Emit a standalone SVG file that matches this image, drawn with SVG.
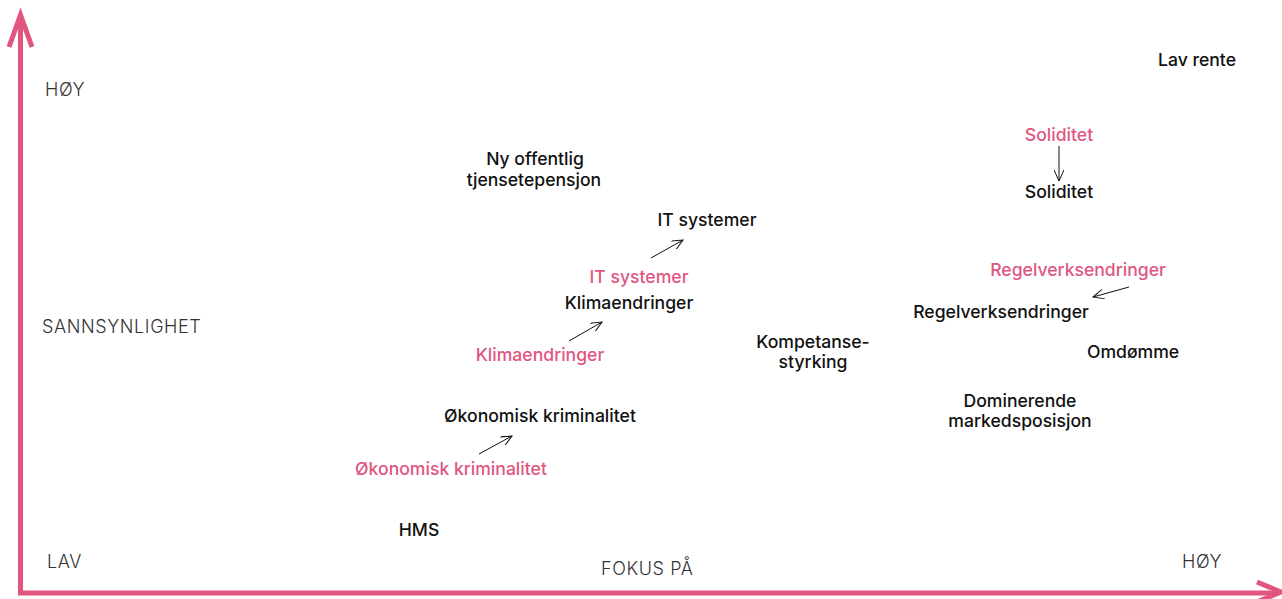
<svg xmlns="http://www.w3.org/2000/svg" width="1282" height="599" viewBox="0 0 1282 599">
<defs>
<style>
.ax{font-family:Inter,"Liberation Sans",sans-serif;font-size:18px;font-weight:300;fill:#333;letter-spacing:0.6px}
.lb{font-family:Inter,"Liberation Sans",sans-serif;font-size:17.6px;font-weight:500;fill:#111;text-anchor:middle}
.pk{fill:#E0567F}
.axis{stroke:#E0567F;stroke-width:5;fill:none}
.conn{stroke:#111;stroke-width:1;fill:none}
</style>
<marker id="ah" viewBox="0 0 12 10" refX="11" refY="5" markerWidth="12" markerHeight="10" markerUnits="userSpaceOnUse" orient="auto">
<path d="M0,0 L11,5 L0,10" fill="none" stroke="#111" stroke-width="1"/>
</marker>
</defs>
<rect width="1282" height="599" fill="#fff"/>
<g id="axes">
<path class="axis" d="M20.5,593 V15"/>
<path class="axis" d="M9,47 L20.5,15 L32,47"/>
<path class="axis" d="M18,593 H1278"/>
<path class="axis" d="M1257,582 L1281,592 L1257,602"/>
</g>
<g id="axis-labels">
<text class="ax" x="45" y="96">HØY</text>
<text class="ax" x="42" y="333">SANNSYNLIGHET</text>
<text class="ax" x="47" y="568">LAV</text>
<text class="ax" x="601" y="575">FOKUS PÅ</text>
<text class="ax" x="1182" y="568">HØY</text>
</g>
<g id="connectors">
<line class="conn" x1="1059" y1="146" x2="1059" y2="181" marker-end="url(#ah)"/>
<line class="conn" x1="651" y1="258" x2="683" y2="240" marker-end="url(#ah)"/>
<line class="conn" x1="569" y1="341" x2="602" y2="322" marker-end="url(#ah)"/>
<line class="conn" x1="479" y1="454" x2="512" y2="436" marker-end="url(#ah)"/>
<line class="conn" x1="1129" y1="287" x2="1093" y2="297" marker-end="url(#ah)"/>
</g>
<g id="lav-rente"><text class="lb" x="1197" y="66">Lav rente</text></g>
<g id="soliditet-old"><text class="lb pk" x="1059" y="141">Soliditet</text></g>
<g id="soliditet"><text class="lb" x="1059" y="198">Soliditet</text></g>
<g id="ny-offentlig"><text class="lb" x="535" y="165">Ny offentlig</text><text class="lb" x="534" y="186">tjensetepensjon</text></g>
<g id="it-systemer"><text class="lb" x="707" y="226">IT systemer</text></g>
<g id="it-systemer-old"><text class="lb pk" x="639" y="283">IT systemer</text></g>
<g id="klima"><text class="lb" x="629" y="309">Klimaendringer</text></g>
<g id="klima-old"><text class="lb pk" x="540" y="361">Klimaendringer</text></g>
<g id="okonomisk"><text class="lb" x="540" y="422">Økonomisk kriminalitet</text></g>
<g id="okonomisk-old"><text class="lb pk" x="451" y="475">Økonomisk kriminalitet</text></g>
<g id="hms"><text class="lb" x="419" y="536">HMS</text></g>
<g id="kompetanse"><text class="lb" x="813" y="348">Kompetanse-</text><text class="lb" x="813" y="368">styrking</text></g>
<g id="regelverk-old"><text class="lb pk" x="1078" y="276">Regelverksendringer</text></g>
<g id="regelverk"><text class="lb" x="1001" y="318">Regelverksendringer</text></g>
<g id="omdomme"><text class="lb" x="1133" y="358">Omdømme</text></g>
<g id="dominerende"><text class="lb" x="1020" y="407">Dominerende</text><text class="lb" x="1020" y="427">markedsposisjon</text></g>
</svg>
